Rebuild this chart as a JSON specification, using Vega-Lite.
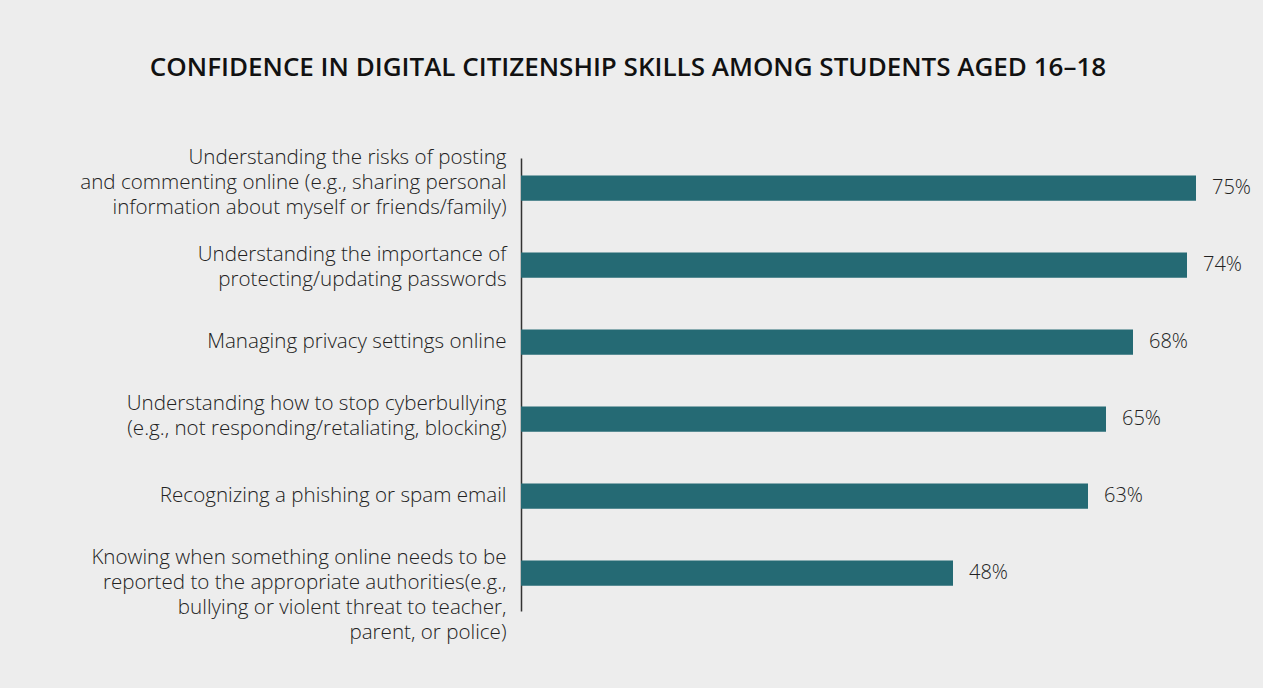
{
  "$schema": "https://vega.github.io/schema/vega-lite/v6.json",
  "autosize": {"type": "none"},
  "width": 720,
  "height": 453,
  "padding": {"left": 521, "top": 158, "right": 22, "bottom": 77},
  "background": "#ededed",
  "title": {
    "text": "CONFIDENCE IN DIGITAL CITIZENSHIP SKILLS AMONG STUDENTS AGED 16–18",
    "font": "Open Sans",
    "fontSize": 26,
    "fontWeight": 600,
    "color": "#111111",
    "anchor": "middle",
    "frame": "group",
    "dx": -253,
    "offset": 67
  },
  "data": {
    "values": [
      {"skill": "Understanding the risks of posting|and commenting online (e.g., sharing personal|information about myself or friends/family)", "pct": 75},
      {"skill": "Understanding the importance of|protecting/updating passwords", "pct": 74},
      {"skill": "Managing privacy settings online", "pct": 68},
      {"skill": "Understanding how to stop cyberbullying|(e.g., not responding/retaliating, blocking)", "pct": 65},
      {"skill": "Recognizing a phishing or spam email", "pct": 63},
      {"skill": "Knowing when something online needs to be |reported to the appropriate authorities(e.g., |bullying or violent threat to teacher,|parent, or police)", "pct": 48}
    ]
  },
  "encoding": {
    "y": {
      "field": "skill",
      "type": "nominal",
      "sort": null,
      "scale": {"paddingInner": 0.675, "paddingOuter": 0.279, "align": 0.41},
      "axis": {
        "title": null,
        "ticks": false,
        "grid": false,
        "domain": true,
        "domainColor": "#333333",
        "domainWidth": 1.5,
        "labelExpr": "split(datum.label, '|')",
        "labelFont": "Open Sans",
        "labelFontSize": 20.6,
        "labelFontWeight": 300,
        "labelColor": "#222222",
        "labelLineHeight": 25,
        "labelPadding": 15,
        "labelLimit": 0,
        "labelOffset": {
          "condition": [
            {"test": "indexof(datum.value, 'Understanding the risks') == 0", "value": -30},
            {"test": "indexof(datum.value, 'Understanding the importance') == 0", "value": -10},
            {"test": "indexof(datum.value, 'Understanding how') == 0", "value": -15},
            {"test": "indexof(datum.value, 'Knowing') == 0", "value": -15}
          ],
          "value": 0
        }
      }
    },
    "x": {
      "field": "pct",
      "type": "quantitative",
      "scale": {"domain": [0, 80]},
      "axis": null
    }
  },
  "layer": [
    {"mark": {"type": "bar", "color": "#256a74"}},
    {
      "mark": {"type": "text", "align": "left", "baseline": "middle", "dx": 16, "font": "Open Sans", "fontSize": 20, "fontWeight": 300, "color": "#222222", "text": {"expr": "datum.pct + '%'"}}
    }
  ],
  "config": {"view": {"stroke": null}}
}
